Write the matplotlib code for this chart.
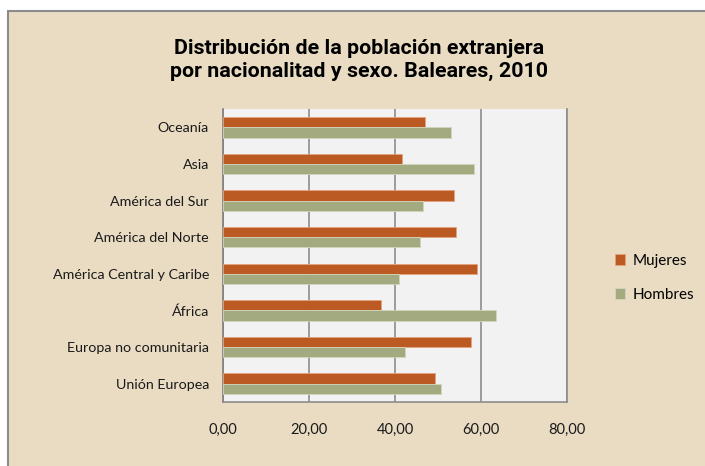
import numpy as np
import matplotlib
matplotlib.use("Agg")
import matplotlib.pyplot as plt
from matplotlib.patches import Rectangle

# datos (porcentaje)
regiones = ["Unión Europea", "Europa no comunitaria", "África",
            "América Central y Caribe", "América del Norte",
            "América del Sur", "Asia", "Oceanía"]
mujeres = [49.4, 57.7, 36.7, 59.1, 54.3, 53.7, 41.7, 47.0]
hombres = [50.7, 42.4, 63.4, 41.0, 45.7, 46.4, 58.4, 53.0]
xticks = [0, 20, 40, 60, 80]
xlabels = ["0,00", "20,00", "40,00", "60,00", "80,00"]

beige = "#E9DCC3"
c_muj = "#BC5A24"
c_hom = "#A4AA80"
font = ["Lato", "DejaVu Sans"]

fig = plt.figure(figsize=(7.05, 4.66), dpi=100)
fig.patch.set_facecolor("white")

# fondo del grafico con borde gris
bg = fig.add_axes([0, 0, 1, 1], zorder=-1)
bg.set_xlim(0, 705)
bg.set_ylim(466, 0)
bg.axis("off")
bg.add_patch(Rectangle((8, 10.5), 710, 470, facecolor=beige,
                       edgecolor="#8C8C8C", linewidth=1.5))

ax = fig.add_axes([223 / 705, 1 - 402 / 466, 344 / 705, 293 / 466])
ax.set_facecolor("#F2F2F2")

y = np.arange(len(regiones))
h = 0.28
ax.barh(y + h / 2, mujeres, height=h, color=c_muj, label="Mujeres",
        edgecolor="#E3A27E", linewidth=0.6, zorder=3)
ax.barh(y - h / 2, hombres, height=h, color=c_hom, label="Hombres",
        edgecolor="#D2D6BE", linewidth=0.6, zorder=3)

ax.set_xlim(0, 80)
ax.set_ylim(-0.5, len(regiones) - 0.5)
ax.set_xticks(xticks)
ax.set_xticklabels(xlabels, fontfamily=font, fontsize=10.5)
ax.set_yticks(y)
ax.set_yticklabels(regiones, fontfamily=font, fontsize=10.3)
ax.tick_params(axis="both", length=0, colors="#1A1A1A")
ax.tick_params(axis="x", pad=15)
ax.tick_params(axis="y", pad=10)
ax.grid(axis="x", color="#8C8C8C", linewidth=1.2, zorder=1)
ax.spines["top"].set_visible(False)
ax.spines["right"].set_color("#8C8C8C")
ax.spines["bottom"].set_color("#8C8C8C")
ax.spines["left"].set_color("#7F7F7F")
for s in ["right", "bottom", "left"]:
    ax.spines[s].set_linewidth(1.2)

fig.text(359 / 705, 1 - 60 / 466,
         "Distribución de la población extranjera\npor nacionalitad y sexo. Baleares, 2010",
         ha="center", va="center", fontsize=15.4, fontweight="bold",
         fontfamily=["Roboto", "DejaVu Sans"], linespacing=1.3)

handles, labels = ax.get_legend_handles_labels()
leg = fig.legend(handles, labels, loc="center left",
                 bbox_to_anchor=(601 / 705, 1 - 278 / 466), frameon=False,
                 prop={"family": font, "size": 11}, handlelength=0.7,
                 handleheight=0.7, handletextpad=0.5, labelspacing=1.3)

fig.savefig("out.png", dpi=100, facecolor=fig.get_facecolor())
